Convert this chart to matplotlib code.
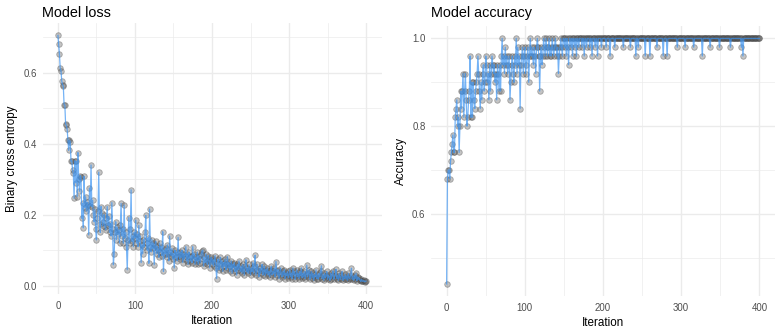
import numpy as np
import matplotlib
matplotlib.use('Agg')
import matplotlib.pyplot as plt
from matplotlib.ticker import MultipleLocator

plt.rcParams['font.family'] = ['Liberation Sans', 'DejaVu Sans']

# 数据: 每次迭代的损失和准确率 (0..400)
loss = [
    0.705, 0.680, 0.652, 0.612, 0.605, 0.576, 0.566, 0.563, 0.510, 0.509, 0.455, 0.452, 0.440, 0.409, 0.381, 0.410, 0.406, 0.350, 0.352, 0.326,
    0.317, 0.246, 0.352, 0.290, 0.350, 0.251, 0.375, 0.300, 0.266, 0.310, 0.305, 0.190, 0.232, 0.163, 0.308, 0.220, 0.250, 0.210, 0.235, 0.228,
    0.143, 0.275, 0.225, 0.340, 0.223, 0.240, 0.200, 0.180, 0.215, 0.160, 0.129, 0.190, 0.210, 0.320, 0.175, 0.150, 0.223, 0.205, 0.168, 0.180,
    0.200, 0.165, 0.157, 0.190, 0.223, 0.170, 0.195, 0.150, 0.175, 0.140, 0.234, 0.160, 0.059, 0.090, 0.150, 0.180, 0.130, 0.165, 0.145, 0.157,
    0.120, 0.170, 0.232, 0.140, 0.160, 0.120, 0.227, 0.135, 0.150, 0.110, 0.045, 0.130, 0.192, 0.120, 0.160, 0.270, 0.125, 0.140, 0.110, 0.150,
    0.135, 0.185, 0.120, 0.145, 0.110, 0.170, 0.125, 0.140, 0.065, 0.115, 0.090, 0.130, 0.110, 0.150, 0.198, 0.120, 0.100, 0.135, 0.063, 0.216,
    0.110, 0.095, 0.130, 0.105, 0.120, 0.059, 0.115, 0.125, 0.090, 0.110, 0.100, 0.080, 0.120, 0.095, 0.110, 0.085, 0.152, 0.040, 0.100, 0.090,
    0.105, 0.080, 0.115, 0.090, 0.070, 0.140, 0.095, 0.085, 0.105, 0.075, 0.090, 0.050, 0.100, 0.080, 0.095, 0.070, 0.136, 0.085, 0.075, 0.095,
    0.080, 0.100, 0.065, 0.090, 0.075, 0.085, 0.110, 0.070, 0.090, 0.060, 0.095, 0.080, 0.070, 0.085, 0.065, 0.110, 0.075, 0.090, 0.060, 0.080,
    0.070, 0.095, 0.060, 0.085, 0.075, 0.065, 0.090, 0.098, 0.100, 0.055, 0.080, 0.065, 0.090, 0.070, 0.060, 0.085, 0.075, 0.050, 0.070, 0.080,
    0.060, 0.075, 0.055, 0.070, 0.085, 0.050, 0.020, 0.065, 0.075, 0.045, 0.060, 0.080, 0.050, 0.070, 0.040, 0.065, 0.055, 0.075, 0.045, 0.060,
    0.082, 0.050, 0.065, 0.040, 0.055, 0.070, 0.035, 0.060, 0.050, 0.065, 0.040, 0.055, 0.030, 0.060, 0.045, 0.070, 0.050, 0.040, 0.055, 0.035,
    0.060, 0.045, 0.030, 0.055, 0.073, 0.040, 0.050, 0.035, 0.060, 0.045, 0.030, 0.050, 0.040, 0.065, 0.035, 0.055, 0.086, 0.030, 0.045, 0.060,
    0.040, 0.025, 0.050, 0.035, 0.045, 0.060, 0.030, 0.040, 0.055, 0.028, 0.045, 0.035, 0.050, 0.030, 0.040, 0.025, 0.045, 0.055, 0.030, 0.040,
    0.035, 0.050, 0.025, 0.068, 0.040, 0.030, 0.045, 0.020, 0.035, 0.050, 0.030, 0.025, 0.040, 0.030, 0.045, 0.020, 0.035, 0.028, 0.040, 0.022,
    0.030, 0.045, 0.025, 0.035, 0.020, 0.050, 0.030, 0.040, 0.018, 0.030, 0.045, 0.025, 0.035, 0.020, 0.040, 0.028, 0.050, 0.022, 0.035, 0.025,
    0.040, 0.020, 0.030, 0.058, 0.025, 0.035, 0.045, 0.018, 0.030, 0.040, 0.022, 0.035, 0.015, 0.030, 0.025, 0.045, 0.020, 0.030, 0.018, 0.035,
    0.025, 0.040, 0.056, 0.020, 0.030, 0.015, 0.035, 0.022, 0.028, 0.040, 0.018, 0.030, 0.025, 0.015, 0.035, 0.020, 0.030, 0.042, 0.018, 0.025,
    0.030, 0.046, 0.020, 0.028, 0.015, 0.035, 0.022, 0.018, 0.030, 0.040, 0.015, 0.025, 0.020, 0.032, 0.018, 0.028, 0.015, 0.035, 0.022, 0.020,
    0.030, 0.049, 0.018, 0.025, 0.015, 0.030, 0.020, 0.035, 0.014, 0.025, 0.018, 0.022, 0.015, 0.012, 0.018, 0.013, 0.012, 0.015, 0.011, 0.012,
    0.013,
]

acc = [
    0.44, 0.68, 0.70, 0.70, 0.68, 0.72, 0.74, 0.76, 0.78, 0.74, 0.74, 0.82, 0.84, 0.86, 0.80, 0.82, 0.74, 0.80, 0.88, 0.84,
    0.88, 0.92, 0.82, 0.88, 0.92, 0.86, 0.80, 0.82, 0.86, 0.88, 0.96, 0.82, 0.90, 0.82, 0.90, 0.86, 0.84, 0.88, 0.90, 0.92,
    0.96, 0.92, 0.88, 0.84, 0.90, 0.86, 0.92, 0.94, 0.88, 0.90, 0.96, 0.94, 0.90, 0.92, 0.86, 0.94, 0.88, 0.92, 0.96, 0.94,
    0.92, 0.94, 0.90, 0.92, 0.86, 0.94, 0.92, 0.88, 0.94, 0.88, 0.96, 1.00, 0.94, 0.96, 0.92, 0.98, 0.94, 0.96, 0.92, 0.94,
    0.96, 0.86, 0.90, 0.94, 0.96, 0.92, 0.90, 0.96, 0.94, 1.00, 0.92, 0.98, 0.94, 0.96, 0.84, 0.94, 0.96, 0.98, 0.92, 0.96,
    0.98, 0.92, 0.94, 0.96, 0.98, 0.90, 0.96, 1.00, 0.96, 0.98, 0.96, 0.94, 0.98, 0.96, 0.92, 0.98, 1.00, 0.98, 0.96, 0.88,
    0.96, 0.98, 0.94, 0.96, 1.00, 0.98, 0.96, 1.00, 0.98, 0.96, 0.98, 1.00, 0.96, 0.98, 0.96, 1.00, 0.98, 0.96, 0.98, 1.00,
    0.98, 0.96, 0.98, 0.92, 0.96, 0.98, 1.00, 0.98, 0.96, 1.00, 1.00, 0.98, 1.00, 0.96, 1.00, 0.98, 0.94, 1.00, 1.00, 0.98,
    1.00, 0.96, 1.00, 1.00, 0.98, 1.00, 0.96, 1.00, 1.00, 0.98, 1.00, 1.00, 1.00, 0.98, 1.00, 1.00, 0.96, 1.00, 1.00, 0.98,
    1.00, 1.00, 1.00, 0.98, 1.00, 1.00, 0.96, 1.00, 1.00, 1.00, 0.98, 1.00, 1.00, 0.96, 1.00, 1.00, 1.00, 1.00, 0.98, 1.00,
    1.00, 1.00, 1.00, 1.00, 0.98, 1.00, 1.00, 1.00, 1.00, 0.96, 1.00, 1.00, 1.00, 1.00, 1.00, 0.98, 1.00, 1.00, 1.00, 1.00,
    1.00, 1.00, 1.00, 1.00, 1.00, 1.00, 0.98, 1.00, 1.00, 1.00, 1.00, 1.00, 1.00, 1.00, 1.00, 0.98, 1.00, 1.00, 1.00, 1.00,
    1.00, 1.00, 0.96, 1.00, 1.00, 0.98, 1.00, 1.00, 1.00, 1.00, 1.00, 1.00, 1.00, 1.00, 0.96, 1.00, 1.00, 1.00, 1.00, 1.00,
    0.96, 1.00, 1.00, 1.00, 1.00, 1.00, 1.00, 1.00, 1.00, 0.98, 1.00, 1.00, 1.00, 1.00, 1.00, 1.00, 1.00, 0.96, 1.00, 1.00,
    1.00, 1.00, 0.96, 1.00, 1.00, 1.00, 1.00, 1.00, 1.00, 1.00, 1.00, 1.00, 1.00, 1.00, 1.00, 0.98, 1.00, 1.00, 1.00, 1.00,
    1.00, 1.00, 1.00, 1.00, 1.00, 0.98, 1.00, 1.00, 1.00, 1.00, 1.00, 1.00, 1.00, 1.00, 1.00, 1.00, 0.98, 1.00, 1.00, 1.00,
    1.00, 1.00, 1.00, 1.00, 1.00, 1.00, 1.00, 0.96, 1.00, 1.00, 1.00, 1.00, 1.00, 1.00, 1.00, 1.00, 1.00, 0.98, 1.00, 1.00,
    1.00, 1.00, 1.00, 1.00, 1.00, 1.00, 1.00, 1.00, 1.00, 0.98, 1.00, 1.00, 1.00, 1.00, 1.00, 1.00, 1.00, 1.00, 1.00, 1.00,
    1.00, 1.00, 1.00, 0.98, 1.00, 1.00, 1.00, 1.00, 1.00, 1.00, 1.00, 1.00, 1.00, 1.00, 1.00, 1.00, 1.00, 0.98, 1.00, 0.96,
    1.00, 1.00, 1.00, 1.00, 1.00, 1.00, 1.00, 1.00, 1.00, 1.00, 1.00, 1.00, 1.00, 1.00, 1.00, 1.00, 1.00, 1.00, 1.00, 1.00,
    1.00,
]

iteration = np.arange(len(loss))

W, H = 778, 330
fig = plt.figure(figsize=(W / 100, H / 100), dpi=100)

# 面板位置 (像素)
ax1 = fig.add_axes([42.5 / W, 1 - 294.1 / H, 339 / W, 271 / H])
ax2 = fig.add_axes([431 / W, 1 - 296.2 / H, 344 / W, 270 / H])


def style(ax, ymaj, ymin):
    for s in ax.spines.values():
        s.set_visible(False)
    ax.xaxis.set_major_locator(MultipleLocator(100))
    ax.xaxis.set_minor_locator(MultipleLocator(50))
    ax.yaxis.set_major_locator(MultipleLocator(ymaj))
    ax.yaxis.set_minor_locator(MultipleLocator(ymin))
    ax.grid(which='major', color='#EBEBEB', lw=1.0)
    ax.grid(which='minor', color='#EBEBEB', lw=0.5)
    ax.set_axisbelow(True)
    ax.tick_params(which='both', length=0, labelsize=6.9, labelcolor='#4D4D4D')
    ax.tick_params(axis='x', pad=5)
    ax.tick_params(axis='y', pad=4)
    ax.set_xlabel('Iteration', fontsize=8.4, labelpad=2.5)
    ax.yaxis.set_major_formatter(lambda v, p: f'{v:.1f}')


pt_face = (0.4, 0.4, 0.4, 0.38)
pt_edge = (0.25, 0.25, 0.25, 0.4)

ax1.scatter(iteration, loss, s=16, facecolor=pt_face, edgecolor=pt_edge, lw=0.6, zorder=2)
ax1.plot(iteration, loss, color='#3A93F2', alpha=0.7, lw=0.9, zorder=3)
style(ax1, 0.2, 0.1)
ax1.set_ylabel('Binary cross entropy', fontsize=8.4, labelpad=4)

ax2.scatter(iteration, acc, s=16, facecolor=pt_face, edgecolor=pt_edge, lw=0.6, zorder=2)
ax2.plot(iteration, acc, color='#3A93F2', alpha=0.7, lw=0.9, zorder=3)
style(ax2, 0.2, 0.1)
ax2.set_ylabel('Accuracy', fontsize=8.4, labelpad=4)

fig.text(42.5 / W, 1 - 16.7 / H, 'Model loss', fontsize=10.4, va='baseline', ha='left')
fig.text(431 / W, 1 - 16.7 / H, 'Model accuracy', fontsize=10.4, va='baseline', ha='left')

fig.savefig('out.png', dpi=100)
